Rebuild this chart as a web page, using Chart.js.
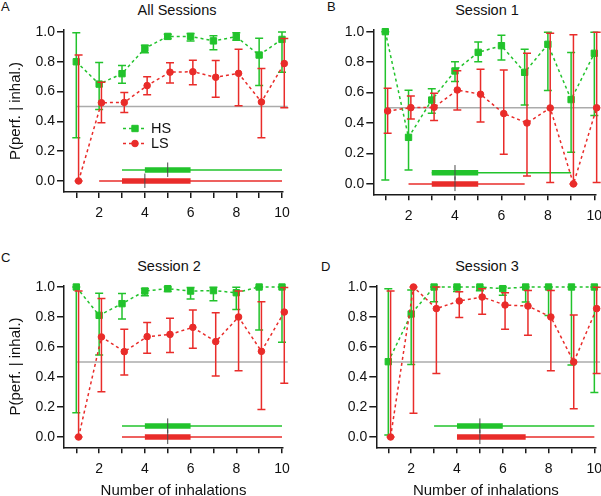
<!DOCTYPE html>
<html><head><meta charset="utf-8">
<script src="https://cdn.jsdelivr.net/npm/chart.js@4/dist/chart.umd.min.js"></script>
<style>
html,body{margin:0;padding:0;background:#fff;overflow:hidden;width:601px;height:496px;position:relative}
.wrap{position:absolute}
.txt{position:absolute;font-family:"Liberation Sans",Arial,sans-serif;color:#111;line-height:1;white-space:nowrap}
.ttl{text-align:center;width:200px;font-size:14.5px}
.let{font-size:13px}
</style></head><body>
<div class="txt let" style="left:1px;top:0px">A</div>
<div class="txt let" style="left:327px;top:0px">B</div>
<div class="txt let" style="left:1px;top:251px">C</div>
<div class="txt let" style="left:321px;top:260px">D</div>
<div class="txt ttl" style="left:77px;top:3px">All Sessions</div>
<div class="txt ttl" style="left:387px;top:3px">Session 1</div>
<div class="txt ttl" style="left:69px;top:259px">Session 2</div>
<div class="txt ttl" style="left:387px;top:259px">Session 3</div>
<div class="wrap" style="left:0;top:0"><canvas id="cA" width="300" height="245"></canvas></div>
<div class="wrap" style="left:300px;top:0"><canvas id="cB" width="301" height="245"></canvas></div>
<div class="wrap" style="left:0;top:245px"><canvas id="cC" width="300" height="256"></canvas></div>
<div class="wrap" style="left:300px;top:245px"><canvas id="cD" width="301" height="256"></canvas></div>
<script>
// ---------------- data ----------------
const inhalations = [1, 2, 3, 4, 5, 6, 7, 8, 9, 10];
const xTickLabels = ['2', '4', '6', '8', '10'];
const yTickLabels = ['0.0', '0.2', '0.4', '0.6', '0.8', '1.0'];
const chanceLevel = 0.5;
const chanceSpan = [1, 10.25];

// All sessions
const allHS   = [0.80, 0.65, 0.72, 0.89, 0.97, 0.97, 0.94, 0.968, 0.845, 0.95];
const allHSLo = [0.29, 0.48, 0.655, 0.86, 0.955, 0.94, 0.88, 0.945, 0.64, 0.73];
const allHSHi = [0.995, 0.795, 0.775, 0.91, 0.985, 0.99, 0.975, 0.995, 0.957, 1.0];
const allLS   = [0.0, 0.525, 0.527, 0.64, 0.73, 0.733, 0.696, 0.722, 0.53, 0.788];
const allLSLo = [0.0, 0.39, 0.46, 0.578, 0.658, 0.645, 0.562, 0.505, 0.29, 0.492];
const allLSHi = [0.845, 0.662, 0.593, 0.70, 0.794, 0.81, 0.808, 0.884, 0.755, 0.956];
const allHSBox = [3, 4, 5, 6, 10];   // min, q1, median, q3, max
const allLSBox = [2, 3, 4, 6, 10];

// Session 1
const s1HS   = [1.0, 0.306, 0.551, 0.742, 0.864, 0.908, 0.733, 0.917, 0.554, 0.858];
const s1HSLo = [0.026, 0.092, 0.465, 0.672, 0.803, 0.814, 0.519, 0.613, 0.208, 0.45];
const s1HSHi = [1.0, 0.615, 0.625, 0.803, 0.932, 0.976, 0.884, 0.996, 0.864, 0.996];
const s1LS   = [0.479, 0.501, 0.503, 0.617, 0.589, 0.462, 0.40, 0.499, 0.0, 0.50];
const s1LSLo = [0.333, 0.427, 0.416, 0.486, 0.407, 0.195, 0.053, 0.009, 0.0, 0.009];
const s1LSHi = [0.628, 0.578, 0.595, 0.744, 0.753, 0.748, 0.858, 0.989, 0.98, 0.996];
const s1HSBox = [3, 3, 4, 5, 9];
const s1LSBox = [2, 3, 4, 5, 7];

// Session 2
const s2HS   = [1.0, 0.811, 0.889, 0.973, 0.989, 0.973, 0.976, 0.962, 1.0, 1.0];
const s2HSLo = [0.162, 0.547, 0.787, 0.942, 0.97, 0.92, 0.909, 0.85, 0.713, 0.631];
const s2HSHi = [1.0, 0.958, 0.956, 0.99, 1.0, 0.996, 0.998, 0.998, 1.0, 1.0];
const s2LS   = [0.0, 0.667, 0.569, 0.669, 0.684, 0.731, 0.636, 0.80, 0.571, 0.833];
const s2LSLo = [0.0, 0.302, 0.413, 0.558, 0.564, 0.591, 0.407, 0.442, 0.184, 0.358];
const s2LSHi = [0.973, 0.924, 0.718, 0.764, 0.791, 0.847, 0.829, 0.973, 0.902, 0.996];
const s2HSBox = [3, 4, 5, 6, 10];
const s2LSBox = [3, 4, 5, 6, 10];

// Session 3
const s3HS   = [0.502, 0.82, 1.0, 1.0, 1.0, 0.989, 1.0, 1.0, 1.0, 1.0];
const s3HSLo = [0.013, 0.484, 0.902, 0.97, 0.975, 0.945, 0.90, 0.81, 0.48, 0.296];
const s3HSHi = [0.989, 0.98, 1.0, 1.0, 1.0, 1.0, 1.0, 1.0, 1.0, 1.0];
const s3LS   = [0.0, 1.0, 0.856, 0.907, 0.933, 0.88, 0.873, 0.80, 0.50, 0.856];
const s3LSLo = [0.0, 0.158, 0.424, 0.796, 0.818, 0.718, 0.678, 0.442, 0.189, 0.424];
const s3LSHi = [0.973, 1.0, 1.0, 0.969, 0.989, 0.962, 0.976, 0.976, 0.813, 0.998];
const s3HSBox = [3, 4, 5, 6, 10];
const s3LSBox = [4, 4, 5, 7, 10];

// ---------------- drawing ----------------
const GREEN = '#22c32c';
const RED = '#e92c2a';
const FONT = '"Liberation Sans", Arial, sans-serif';
Chart.defaults.font.family = FONT;
Chart.defaults.color = '#111';

const LS_DX = 0.1;          // horizontal jitter of LS points
const HS_BOX_LEVEL = 0.074; // vertical placement of the distribution bars
const LS_BOX_LEVEL = 0.0;

const errorBarPlugin = {
  id: 'errbars',
  afterDatasetDraw(chart, args) {
    const ds = chart.data.datasets[args.index];
    if (!ds.errLo) return;
    const ctx = chart.ctx, xs = chart.scales.x, ys = chart.scales.y;
    ctx.save();
    ctx.strokeStyle = ds.borderColor;
    ctx.lineWidth = 1.5;
    ds.data.forEach((p, i) => {
      const px = xs.getPixelForValue(p.x);
      const yl = ys.getPixelForValue(ds.errLo[i]);
      const yh = ys.getPixelForValue(ds.errHi[i]);
      ctx.beginPath();
      ctx.moveTo(px, yl); ctx.lineTo(px, yh);
      ctx.moveTo(px - 4, yl); ctx.lineTo(px + 4, yl);
      ctx.moveTo(px - 4, yh); ctx.lineTo(px + 4, yh);
      ctx.stroke();
    });
    ctx.restore();
  }
};

const legendPlugin = {
  id: 'insetLegend',
  afterDraw(chart, args, opts) {
    if (!opts || !opts.items) return;
    const ctx = chart.ctx;
    opts.items.forEach(it => {
      ctx.save();
      ctx.strokeStyle = it.color; ctx.lineWidth = 1.5; ctx.setLineDash([3, 3]);
      ctx.beginPath(); ctx.moveTo(it.x0, it.y); ctx.lineTo(it.x1, it.y); ctx.stroke();
      ctx.setLineDash([]);
      ctx.fillStyle = it.color; ctx.strokeStyle = it.color; ctx.lineWidth = 1;
      Chart.helpers.drawPoint(ctx, {pointStyle: it.style, radius: it.r, borderWidth: 1, rotation: 0}, (it.x0 + it.x1) / 2, it.y);
      ctx.fillStyle = '#111';
      ctx.font = '14.5px ' + FONT;
      ctx.textBaseline = 'middle';
      ctx.textAlign = 'left';
      ctx.fillText(it.text, it.tx, it.y + 0.5);
      ctx.restore();
    });
  }
};

function pts(vals, dx) { return inhalations.map((n, i) => ({x: n + dx, y: vals[i]})); }

function boxSets(box, level, color) {
  const [mn, q1, md, q3, mx] = box;
  return [
    {data: [{x: mn, y: level}, {x: mx, y: level}], borderColor: color, borderWidth: 1.5, order: 7},
    {data: [{x: q1, y: level}, {x: q3, y: level}], borderColor: color, borderWidth: 5.5, borderCapStyle: 'butt', order: 6},
    {data: [{x: md, y: level - 0.047}, {x: md, y: level + 0.05}], borderColor: '#4a4a4a', borderWidth: 1, order: 5}
  ];
}

function buildPanel(p) {
  const [cx, cy, cw, ch] = p.canvas;
  const [L, T, R, B] = p.area;
  const datasets = [
    {label: 'chance', data: [{x: chanceSpan[0], y: chanceLevel}, {x: chanceSpan[1], y: chanceLevel}],
     borderColor: '#ababab', borderWidth: 1.5, order: 10},
    ...boxSets(p.hsBox, HS_BOX_LEVEL, GREEN),
    ...boxSets(p.lsBox, LS_BOX_LEVEL, RED),
    {label: 'HS', data: pts(p.hs, 0), errLo: p.hsLo, errHi: p.hsHi,
     borderColor: GREEN, backgroundColor: GREEN, borderWidth: 1.5, borderDash: [3, 3],
     pointStyle: 'rect', pointRadius: 4.5, pointBorderWidth: 1, pointBackgroundColor: GREEN, pointBorderColor: GREEN, order: 2},
    {label: 'LS', data: pts(p.ls, LS_DX), errLo: p.lsLo, errHi: p.lsHi,
     borderColor: RED, backgroundColor: RED, borderWidth: 1.5, borderDash: [3, 3],
     pointStyle: 'circle', pointRadius: 3.3, pointBorderWidth: 1, pointBackgroundColor: RED, pointBorderColor: RED, order: 1}
  ].map(d => Object.assign({showLine: true, pointRadius: 0, clip: false, fill: false, tension: 0}, d));

  const yLeft = L - cx;
  const xH = cy + ch - B;
  new Chart(document.getElementById(p.id), {
    type: 'scatter',
    data: {datasets},
    plugins: [errorBarPlugin, legendPlugin],
    options: {
      responsive: false, maintainAspectRatio: false, animation: false,
      events: [],
      layout: {padding: {left: 0, top: T - cy, right: cx + cw - R, bottom: 0}},
      plugins: {legend: {display: false}, tooltip: {enabled: false}, title: {display: false},
                insetLegend: p.legend || {}},
      scales: {
        x: {
          type: 'linear', min: p.x[0], max: p.x[1],
          border: {display: true, color: '#1a1a1a', width: 1.5},
          grid: {display: true, drawOnChartArea: false, drawTicks: true, tickLength: 6, color: '#1a1a1a', lineWidth: 1.5},
          ticks: {stepSize: 1, includeBounds: false, autoSkip: false, maxRotation: 0, minRotation: 0, padding: 7,
                  font: {size: 14}, color: '#111',
                  callback: v => { const s = String(Math.round(v)); return xTickLabels.includes(s) ? s : ''; }},
          title: p.xTitle ? {display: true, text: p.xTitle, font: {size: 15, lineHeight: 1}, color: '#111', padding: {top: 0, bottom: 2.3}} : {display: false},
          afterFit: s => { s.height = xH; s.paddingLeft = 0; s.paddingRight = 0; }
        },
        y: {
          type: 'linear', min: p.y[0], max: p.y[1],
          border: {display: true, color: '#1a1a1a', width: 1.5},
          grid: {display: true, drawOnChartArea: false, drawTicks: true, tickLength: 7, color: '#1a1a1a', lineWidth: 1.5},
          ticks: {stepSize: 0.2, includeBounds: false, padding: 2, font: {size: 14}, color: '#111',
                  callback: v => { const s = v.toFixed(1); return yTickLabels.includes(s) ? s : ''; }},
          title: p.yTitle ? {display: true, text: p.yTitle, font: {size: 15, lineHeight: 1}, color: '#111', padding: {top: 8, bottom: 0}} : {display: false},
          afterFit: s => { s.width = yLeft; s.paddingTop = 0; s.paddingBottom = 0; }
        }
      }
    }
  });
}

buildPanel({id: 'cA', canvas: [0, 0, 300, 245], area: [64, 30, 283, 192],
  x: [0.462, 10.044], y: [-0.074, 1.013],
  hs: allHS, hsLo: allHSLo, hsHi: allHSHi, ls: allLS, lsLo: allLSLo, lsHi: allLSHi,
  hsBox: allHSBox, lsBox: allLSBox, yTitle: 'P(perf. | inhal.)',
  legend: {items: [
    {text: 'HS', color: GREEN, style: 'rect', r: 4.5, x0: 123, x1: 147, y: 128.5, tx: 151},
    {text: 'LS', color: RED, style: 'circle', r: 3.3, x0: 123, x1: 147, y: 143.5, tx: 151}
  ]}});

buildPanel({id: 'cB', canvas: [300, 0, 301, 245], area: [373.3, 30, 595.5, 194.3],
  x: [0.483, 10.05], y: [-0.068, 1.011],
  hs: s1HS, hsLo: s1HSLo, hsHi: s1HSHi, ls: s1LS, lsLo: s1LSLo, lsHi: s1LSHi,
  hsBox: s1HSBox, lsBox: s1LSBox});

buildPanel({id: 'cC', canvas: [0, 245, 300, 256], area: [64, 285.7, 283, 447.3],
  x: [0.462, 10.044], y: [-0.0687, 1.0087],
  hs: s2HS, hsLo: s2HSLo, hsHi: s2HSHi, ls: s2LS, lsLo: s2LSLo, lsHi: s2LSHi,
  hsBox: s2HSBox, lsBox: s2LSBox, yTitle: 'P(perf. | inhal.)', xTitle: 'Number of inhalations'});

buildPanel({id: 'cD', canvas: [300, 245, 301, 256], area: [376.3, 285.7, 595.5, 447.3],
  x: [0.476, 10.05], y: [-0.0687, 1.0087],
  hs: s3HS, hsLo: s3HSLo, hsHi: s3HSHi, ls: s3LS, lsLo: s3LSLo, lsHi: s3LSHi,
  hsBox: s3HSBox, lsBox: s3LSBox, xTitle: 'Number of inhalations'});
</script>
</body></html>
